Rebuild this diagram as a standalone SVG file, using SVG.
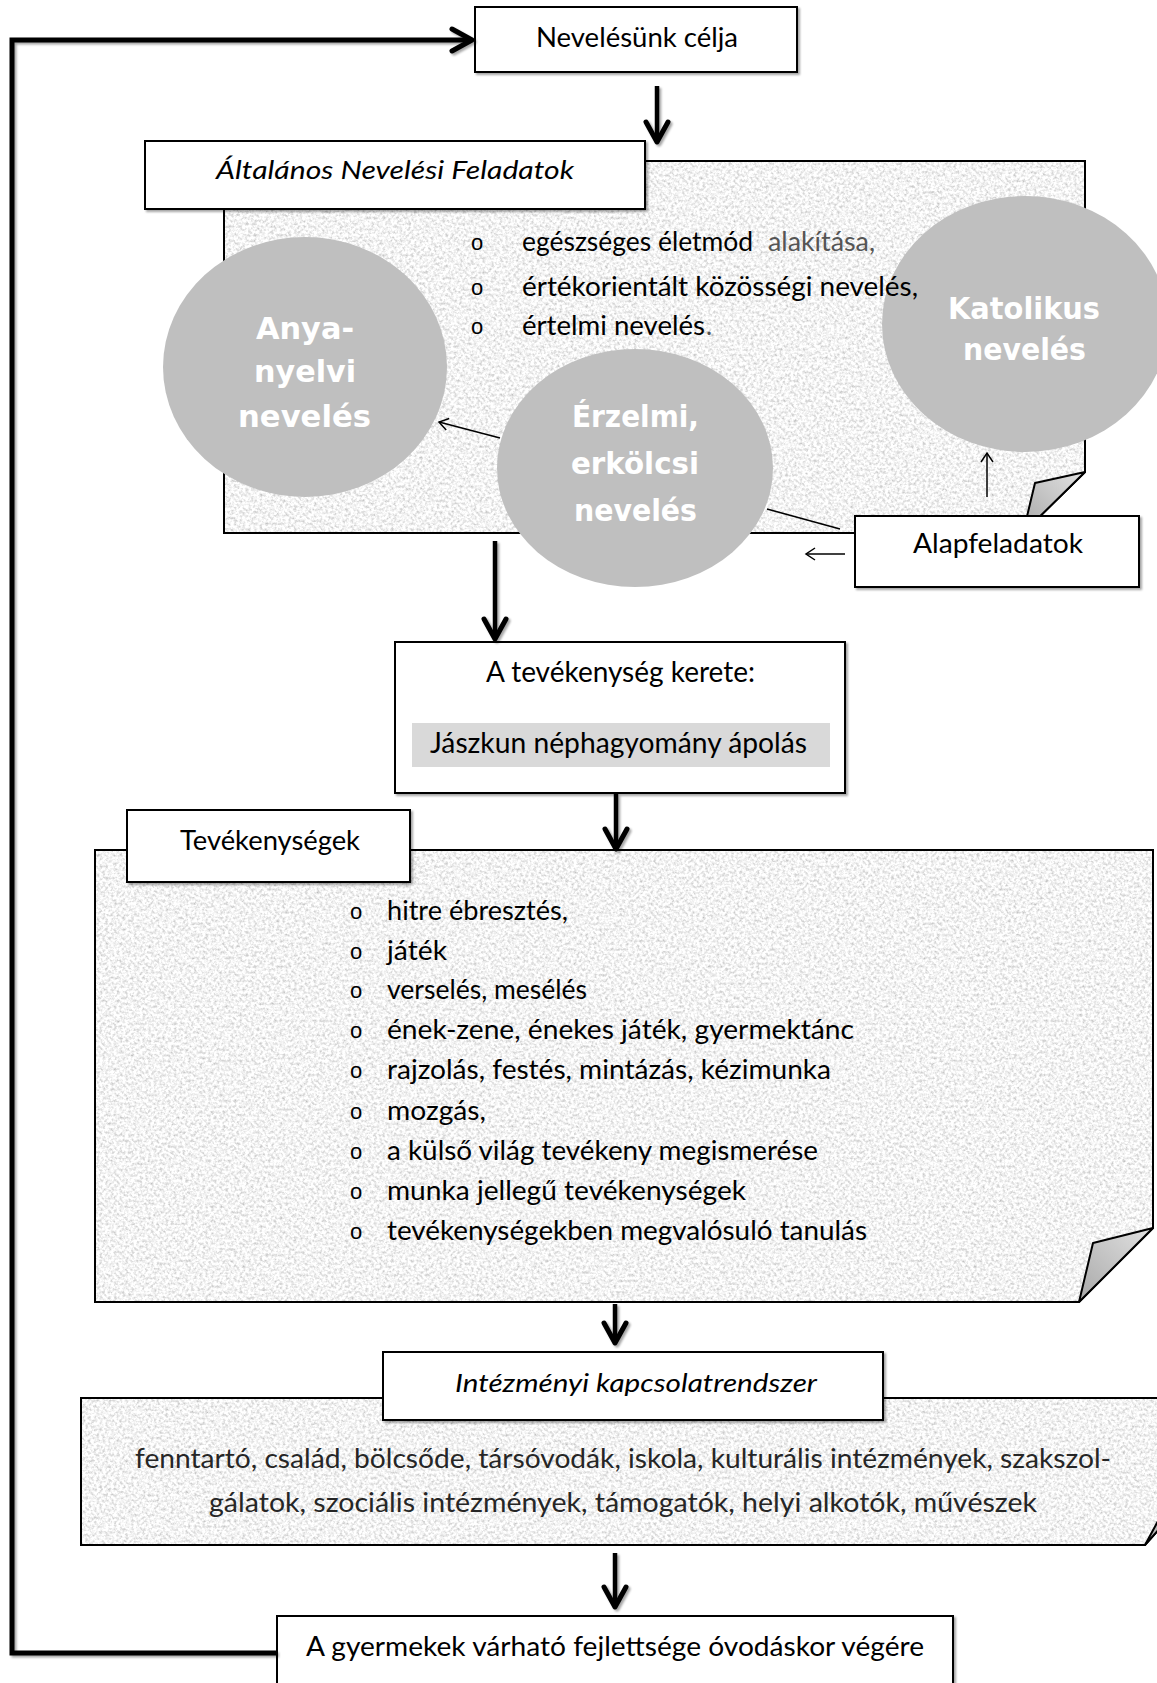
<svg xmlns="http://www.w3.org/2000/svg" width="1157" height="1683" viewBox="0 0 1157 1683">
<style>
.box{fill:#fff;stroke:#000;stroke-width:2;filter:url(#sh)}
.panel{fill:#eaeaea;filter:url(#paper)}
.pedge{fill:none;stroke:#000;stroke-width:2;stroke-linejoin:miter}
.flap{fill:url(#flapg);stroke:#000;stroke-width:2;stroke-linejoin:round}
.t{font-family:Lato,"Open Sans",sans-serif;font-size:26px;fill:#000}
.it{font-style:italic}
.big{font-size:28px}
.grey{fill:#555}
.dark{fill:#262626}
.bul{font-family:"Liberation Sans",sans-serif;font-size:22px;fill:#000}
.circ{fill:#bfbfbf}
.ct{font-family:"DejaVu Sans",sans-serif;font-weight:bold;font-size:31px;fill:#fff}
.band{fill:#d9d9d9}
.thick{fill:none;stroke:#000;stroke-width:4.5;filter:url(#sh)}
.loop{fill:none;stroke:#000;stroke-width:5;stroke-linejoin:miter;filter:url(#sh)}
.thin{fill:none;stroke:#000;stroke-width:1.5}
</style>
<defs>
<filter id="paper" x="0" y="0" width="1" height="1">
<feTurbulence type="fractalNoise" baseFrequency="0.35" numOctaves="3" seed="7" result="n"/>
<feColorMatrix in="n" type="matrix" values="0.9 0 0 0 0.45  0.9 0 0 0 0.45  0.9 0 0 0 0.45  0 0 0 0 1" result="g"/>
<feComposite in="g" in2="SourceGraphic" operator="in"/>
</filter>
<filter id="sh" filterUnits="userSpaceOnUse" x="0" y="0" width="1157" height="1683">
<feDropShadow dx="2" dy="2" stdDeviation="1.2" flood-color="#000" flood-opacity="0.35"/>
</filter>
<linearGradient id="flapg" x1="1" y1="0" x2="0" y2="1">
<stop offset="0" stop-color="#e2e2e2"/>
<stop offset="1" stop-color="#a8a8a8"/>
</linearGradient>
<marker id="hv" markerUnits="userSpaceOnUse" markerWidth="30" markerHeight="30" viewBox="0 0 30 30" refX="26" refY="15" orient="auto">
<path d="M6,4 L26,15 L6,26" fill="none" stroke="#000" stroke-width="5" stroke-linecap="round" stroke-linejoin="round"/>
</marker>
<marker id="tn" markerUnits="userSpaceOnUse" markerWidth="16" markerHeight="16" viewBox="0 0 16 16" refX="14" refY="8" orient="auto">
<path d="M5,2 L14,8 L5,14" fill="none" stroke="#000" stroke-width="1.5"/>
</marker>
</defs>

<rect width="1157" height="1683" fill="#fff"/>

<!-- Panel 1: Általános Nevelési Feladatok -->
<g id="panel-altalanos">
<path class="panel" d="M224,161 H1085 V472 L1023,533 H224 Z"/>
<path class="pedge" d="M224,161 H1085 V472 L1023,533 H224 Z"/>
<polygon class="flap" points="1085,472 1035,483 1023,533"/>
</g>

<g id="node-altalanos">
<rect class="box" x="145" y="141" width="500" height="68"/>
<text class="t it" x="216" y="179" textLength="358" lengthAdjust="spacingAndGlyphs">Általános Nevelési Feladatok</text>
</g>

<g id="node-anyanyelvi">
<ellipse class="circ" cx="305" cy="367" rx="142" ry="130"/>
<text class="ct" x="256" y="339" textLength="98" lengthAdjust="spacingAndGlyphs">Anya-</text>
<text class="ct" x="254" y="382" textLength="102" lengthAdjust="spacingAndGlyphs">nyelvi</text>
<text class="ct" x="238" y="427" textLength="133" lengthAdjust="spacingAndGlyphs">nevelés</text>
</g>

<g id="node-katolikus">
<ellipse class="circ" cx="1025" cy="324" rx="143" ry="128"/>
<text class="ct" x="948" y="319" textLength="152" lengthAdjust="spacingAndGlyphs">Katolikus</text>
<text class="ct" x="963" y="360" textLength="123" lengthAdjust="spacingAndGlyphs">nevelés</text>
</g>

<g id="node-erzelmi">
<ellipse class="circ" cx="635" cy="468" rx="138" ry="119"/>
<text class="ct" x="572" y="427" textLength="127" lengthAdjust="spacingAndGlyphs">Érzelmi,</text>
<text class="ct" x="571" y="474" textLength="128" lengthAdjust="spacingAndGlyphs">erkölcsi</text>
<text class="ct" x="574" y="521" textLength="123" lengthAdjust="spacingAndGlyphs">nevelés</text>
</g>

<g id="list-altalanos">
<text class="bul" x="471" y="250">o</text>
<text class="t" x="522" y="251" textLength="231" lengthAdjust="spacingAndGlyphs">egészséges életmód</text>
<text class="t grey" x="768" y="251" textLength="107" lengthAdjust="spacingAndGlyphs">alakítása,</text>
<text class="bul" x="471" y="295">o</text>
<text class="t" x="522" y="296" textLength="396" lengthAdjust="spacingAndGlyphs">értékorientált közösségi nevelés,</text>
<text class="bul" x="471" y="334">o</text>
<text class="t" x="522" y="335" textLength="183" lengthAdjust="spacingAndGlyphs">értelmi nevelés</text>
<text class="t grey" x="706" y="335">.</text>
</g>

<g id="node-alapfeladatok">
<rect class="box" x="855" y="516" width="284" height="71"/>
<text class="t" x="913" y="553" textLength="170" lengthAdjust="spacingAndGlyphs">Alapfeladatok</text>
</g>

<g id="node-celja">
<rect class="box" x="475" y="7" width="322" height="65"/>
<text class="t" x="536" y="47" textLength="202" lengthAdjust="spacingAndGlyphs">Nevelésünk célja</text>
</g>

<g id="node-kerete">
<rect class="box" x="395" y="642" width="450" height="151"/>
<text class="t big" x="486" y="682" textLength="269" lengthAdjust="spacingAndGlyphs">A tevékenység kerete:</text>
<rect class="band" x="412" y="723" width="418" height="44"/>
<text class="t big" x="430" y="753" textLength="377" lengthAdjust="spacingAndGlyphs">Jászkun néphagyomány ápolás</text>
</g>

<!-- Panel 2: Tevékenységek -->
<g id="panel-tevekenysegek">
<path class="panel" d="M95,850 H1153 V1228 L1079,1302 H95 Z"/>
<path class="pedge" d="M95,850 H1153 V1228 L1079,1302 H95 Z"/>
<polygon class="flap" points="1153,1228 1093,1243 1079,1302"/>
<text class="bul" x="350" y="919">o</text>
<text class="t" x="387" y="920" textLength="181" lengthAdjust="spacingAndGlyphs">hitre ébresztés,</text>
<text class="bul" x="350" y="959">o</text>
<text class="t" x="387" y="960" textLength="60" lengthAdjust="spacingAndGlyphs">játék</text>
<text class="bul" x="350" y="998">o</text>
<text class="t" x="387" y="999" textLength="200" lengthAdjust="spacingAndGlyphs">verselés, mesélés</text>
<text class="bul" x="350" y="1038">o</text>
<text class="t" x="387" y="1039" textLength="467" lengthAdjust="spacingAndGlyphs">ének-zene, énekes játék, gyermektánc</text>
<text class="bul" x="350" y="1078">o</text>
<text class="t" x="387" y="1079" textLength="444" lengthAdjust="spacingAndGlyphs">rajzolás, festés, mintázás, kézimunka</text>
<text class="bul" x="350" y="1119">o</text>
<text class="t" x="387" y="1120" textLength="99" lengthAdjust="spacingAndGlyphs">mozgás,</text>
<text class="bul" x="350" y="1159">o</text>
<text class="t" x="387" y="1160" textLength="431" lengthAdjust="spacingAndGlyphs">a külső világ tevékeny megismerése</text>
<text class="bul" x="350" y="1199">o</text>
<text class="t" x="387" y="1200" textLength="359" lengthAdjust="spacingAndGlyphs">munka jellegű tevékenységek</text>
<text class="bul" x="350" y="1239">o</text>
<text class="t" x="387" y="1240" textLength="480" lengthAdjust="spacingAndGlyphs">tevékenységekben megvalósuló tanulás</text>
</g>

<g id="node-tevekenysegek">
<rect class="box" x="127" y="810" width="283" height="72"/>
<text class="t" x="180" y="850" textLength="180" lengthAdjust="spacingAndGlyphs">Tevékenységek</text>
</g>

<!-- Panel 3: Intézményi kapcsolatrendszer -->
<g id="panel-intezmenyi">
<path class="panel" d="M81,1398 H1185 V1500 L1145,1545 H81 Z"/>
<path class="pedge" d="M81,1398 H1185 V1500 L1145,1545 H81 Z"/>
<polygon class="flap" points="1185,1500 1158,1521 1145,1545"/>
<text class="t dark" x="135" y="1468" textLength="976" lengthAdjust="spacingAndGlyphs">fenntartó, család, bölcsőde, társóvodák, iskola, kulturális intézmények, szakszol-</text>
<text class="t dark" x="209" y="1512" textLength="828" lengthAdjust="spacingAndGlyphs">gálatok, szociális intézmények, támogatók, helyi alkotók, művészek</text>
</g>

<g id="node-intezmenyi">
<rect class="box" x="383" y="1352" width="500" height="68"/>
<text class="t it" x="455" y="1392" textLength="362" lengthAdjust="spacingAndGlyphs">Intézményi kapcsolatrendszer</text>
</g>

<g id="node-fejlettseg">
<rect class="box" x="277" y="1616" width="676" height="90"/>
<text class="t" x="306" y="1656" textLength="618" lengthAdjust="spacingAndGlyphs">A gyermekek várható fejlettsége óvodáskor végére</text>
</g>

<g id="connectors">
<path class="loop" d="M277,1653 H12 V40 H472" marker-end="url(#hv)"/>
<path class="thick" d="M657,86 V142" marker-end="url(#hv)"/>
<path class="thick" d="M495,541 V639" marker-end="url(#hv)"/>
<path class="thick" d="M616,794 V849" marker-end="url(#hv)"/>
<path class="thick" d="M615,1304 V1343" marker-end="url(#hv)"/>
<path class="thick" d="M615,1553 V1607" marker-end="url(#hv)"/>
<path class="thin" d="M500,438 L439,422" marker-end="url(#tn)"/>
<path class="thin" d="M767,509 L840,529"/>
<path class="thin" d="M845,554 H806" marker-end="url(#tn)"/>
<path class="thin" d="M987,497 V453" marker-end="url(#tn)"/>
</g>
</svg>
